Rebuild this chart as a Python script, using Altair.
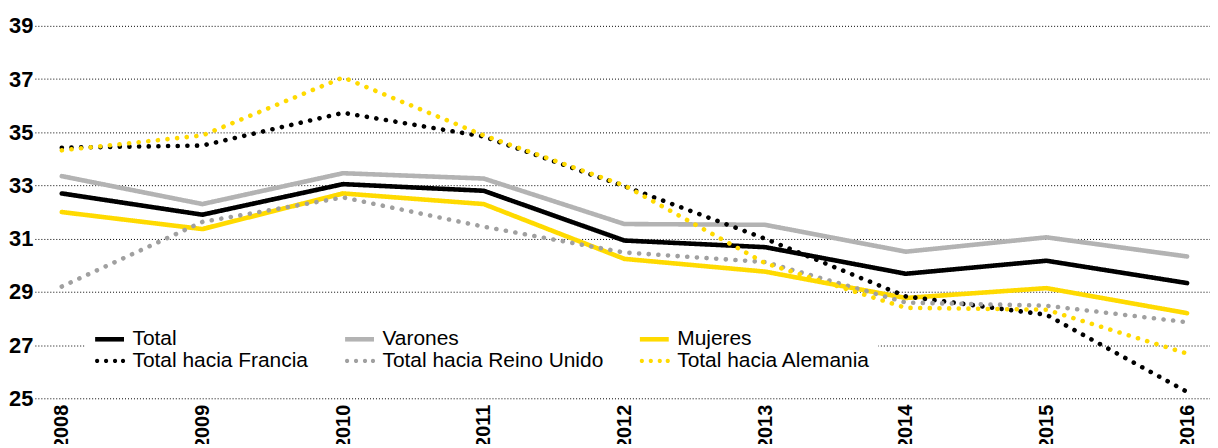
import altair as alt
import pandas as pd

years = [2008, 2009, 2010, 2011, 2012, 2013, 2014, 2015, 2016]
series = ["Total", "Varones", "Mujeres", "Total hacia Francia",
          "Total hacia Reino Unido", "Total hacia Alemania"]
total = [32.7, 31.9, 33.05, 32.8, 30.93, 30.68, 29.68, 30.17, 29.33]
varones = [33.35, 32.3, 33.46, 33.26, 31.55, 31.52, 30.51, 31.05, 30.33]
mujeres = [32.0, 31.36, 32.7, 32.3, 30.24, 29.76, 28.77, 29.14, 28.2]
francia = [34.42, 34.5, 35.73, 34.84, 32.97, 31.0, 28.83, 28.14, 25.24]
reino_unido = [29.2, 31.63, 32.55, 31.45, 30.48, 30.12, 28.6, 28.48, 27.86]
alemania = [34.32, 34.88, 37.06, 34.88, 33.0, 30.08, 28.4, 28.33, 26.68]
y_ticks = [25, 27, 29, 31, 33, 35, 37, 39]

colors = ["#000000", "#b3b3b3", "#ffda00", "#000000", "#a0a0a0", "#ffda00"]
dashes = [[1, 0], [1, 0], [1, 0], [0.1, 9.6], [0.1, 9.6], [0.1, 9.6]]
widths = [4.6, 4.6, 4.6, 4.2, 4.2, 4.2]

# legend glyphs (unit = 5px): a thick bar for solid lines, four dots for dotted ones
bar = "M-1.6,-0.46H4.2V0.46H-1.6Z"
dots = "".join(
    f"M{c - 0.42:.2f},0a0.42,0.42 0 1,0 0.84,0a0.42,0.42 0 1,0 -0.84,0Z"
    for c in [-1.2, 0.6, 2.4, 4.0]
)
glyphs = [bar, bar, bar, dots, dots, dots]

values = [total, varones, mujeres, francia, reino_unido, alemania]
rows = []
for name, vals in zip(series, values):
    for yr, v in zip(years, vals):
        rows.append({"year": yr, "value": v, "serie": name})
df = pd.DataFrame(rows)

FONT = "Liberation Sans"

x_min = 2008 - 27 / 141.25
x_max = x_min + 1180 / 141.25

x_enc = alt.X("year:Q",
              scale=alt.Scale(domain=[x_min, x_max], nice=False, zero=False),
              axis=alt.Axis(values=years, format="d", labelAngle=-90, grid=False,
                            domain=False, ticks=False, labelFontSize=20,
                            labelFontWeight="bold", labelFont=FONT,
                            labelColor="#000000", labelPadding=6, title=None))
y_enc = alt.Y("value:Q",
              scale=alt.Scale(domain=[25, 39], nice=False, zero=False),
              axis=alt.Axis(values=y_ticks, grid=True, gridDash=[1, 2],
                            gridColor="#000000", gridWidth=1, domain=False,
                            ticks=False, labelFontSize=22, labelFontWeight="bold",
                            labelFont=FONT, labelColor="#000000", labelPadding=2,
                            title=None))

lines = alt.Chart(df).mark_line(strokeCap="round", strokeJoin="round").encode(
    x=x_enc,
    y=y_enc,
    color=alt.Color("serie:N", scale=alt.Scale(domain=series, range=colors),
                    legend=None),
    strokeDash=alt.StrokeDash("serie:N",
                              scale=alt.Scale(domain=series, range=dashes),
                              legend=None),
    strokeWidth=alt.StrokeWidth("serie:N",
                                scale=alt.Scale(domain=series, range=widths),
                                legend=None),
    order=alt.Order("year:Q"),
)

leg = alt.Legend(
    title=None, orient="none", legendX=50, legendY=296,
    direction="horizontal", columns=3, columnPadding=34,
    rowPadding=0, fillColor="white", padding=8,
    labelFont=FONT, labelFontSize=21, labelColor="#000000",
    labelLimit=500, symbolSize=100, labelOffset=19,
    symbolStrokeWidth=0)

legend_layer = alt.Chart(df).transform_filter("datum.year < 0").mark_point(
    filled=True, opacity=1
).encode(
    x=alt.X("year:Q"),
    y=alt.Y("value:Q"),
    color=alt.Color("serie:N", scale=alt.Scale(domain=series, range=colors),
                    legend=leg),
    shape=alt.Shape("serie:N", scale=alt.Scale(domain=series, range=glyphs),
                    legend=leg),
)

chart = alt.layer(lines, legend_layer).resolve_scale(
    color="independent", shape="independent"
).resolve_legend(
    color="independent", shape="independent"
).properties(
    width=1180, height=374,
    padding={"left": 27, "top": 17, "right": 0, "bottom": 45},
    autosize=alt.AutoSizeParams(type="none"),
).configure_view(stroke=None)

chart.save("out.html", embed_options={"renderer": "svg", "actions": False})
